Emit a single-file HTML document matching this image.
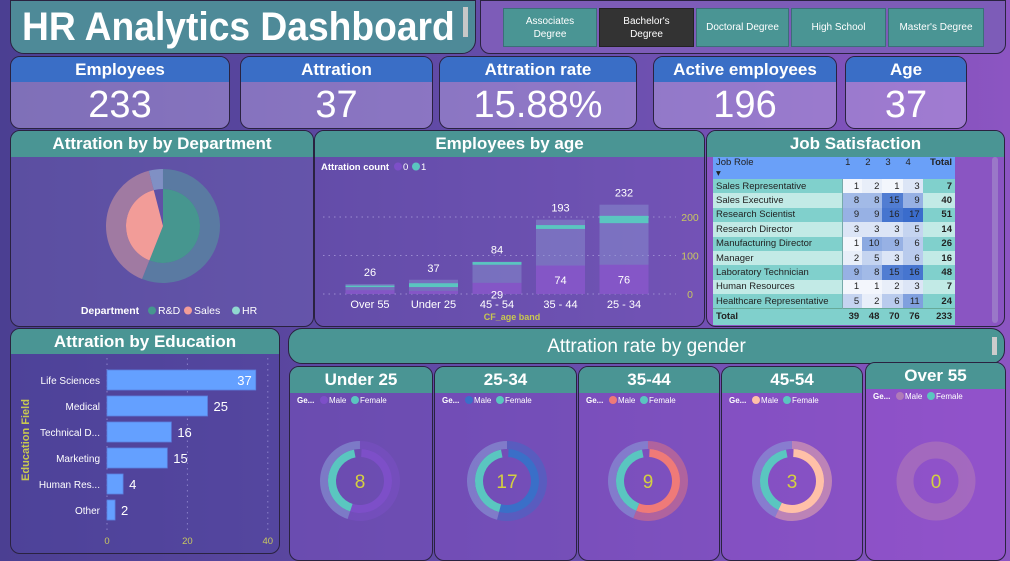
<!DOCTYPE html>
<html><head><meta charset="utf-8">
<style>
*{box-sizing:border-box;margin:0;padding:0}
body{width:1010px;height:555px;overflow:hidden;background:linear-gradient(90deg,#4b3f92 0%,#6a4fae 60%,#8c55c2 100%);font-family:"Liberation Sans Narrow","Liberation Sans",sans-serif;position:relative;color:#fff}
.p{position:absolute;border:1.5px solid #2a2240;border-radius:10px;overflow:hidden}
.hd{background:#4a9594;color:#fff;text-align:center;font-weight:bold}
.kpi .hd{background:#3a6ec6;height:25px;line-height:25px;font-size:17px}
.kpi .v{text-align:center;font-size:38px;line-height:46px;background:rgba(190,170,230,0.45);height:100%}
.btn{position:absolute;top:7px;height:39px;background:#4a9594;border:1px solid #3b6f78;font-size:10px;display:flex;align-items:center;justify-content:center;text-align:center;line-height:13px;font-family:"Liberation Sans",sans-serif}
svg text{font-family:"Liberation Sans Narrow","Liberation Sans",sans-serif}
table{border-collapse:collapse;font-family:"Liberation Sans",sans-serif;font-size:9.5px;color:#222}
td{height:14.4px;padding:0 3px;white-space:nowrap;overflow:hidden}
</style></head><body>
<div class="p" style="left:10px;top:0;width:466px;height:54px;background:#4e8a98;border-radius:0 0 14px 14px">
 <div style="position:absolute;left:11px;top:4px;font-family:'Liberation Sans',sans-serif;font-weight:bold;font-size:40px;white-space:nowrap;transform:scaleX(0.93);transform-origin:left">HR Analytics Dashboard</div>
 <div style="position:absolute;left:452px;top:6px;width:5px;height:30px;background:#c8c8c8"></div>
</div>
<div class="p" style="left:480px;top:0;width:526px;height:54px;background:#7d5cb8;border-radius:0 0 10px 10px">
 <div class="btn" style="left:22px;width:94px">Associates<br>Degree</div>
 <div class="btn" style="left:118px;width:95px;background:#333;border-color:#222">Bachelor's<br>Degree</div>
 <div class="btn" style="left:215px;width:93px">Doctoral Degree</div>
 <div class="btn" style="left:310px;width:95px">High School</div>
 <div class="btn" style="left:407px;width:96px">Master's Degree</div>
</div>

<div class="p kpi" style="left:10px;top:56px;width:220px;height:73px"><div class="hd">Employees</div><div class="v">233</div></div>
<div class="p kpi" style="left:240px;top:56px;width:193px;height:73px"><div class="hd">Attration</div><div class="v">37</div></div>
<div class="p kpi" style="left:439px;top:56px;width:198px;height:73px"><div class="hd">Attration rate</div><div class="v">15.88%</div></div>
<div class="p kpi" style="left:653px;top:56px;width:184px;height:73px"><div class="hd">Active employees</div><div class="v">196</div></div>
<div class="p kpi" style="left:845px;top:56px;width:122px;height:73px"><div class="hd">Age</div><div class="v">37</div></div>

<div class="p" style="left:10px;top:130px;width:304px;height:197px;background:rgba(120,110,190,0.35)"><div class="hd" style="height:26px;line-height:26px;font-size:17px">Attration by by Department</div></div>
<div class="p" style="left:314px;top:130px;width:391px;height:197px;background:rgba(120,90,190,0.3)"><div class="hd" style="height:26px;line-height:26px;font-size:17px">Employees by age</div></div>
<div class="p" style="left:706px;top:130px;width:299px;height:197px;background:#8a55c2"><div class="hd" style="height:26px;line-height:26px;font-size:17px">Job Satisfaction</div>
 <table style="position:absolute;left:6px;top:26px;width:242px" id="jt"></table>
 <div style="position:absolute;left:285px;top:26px;width:6px;height:166px;background:#9a78c8;border-radius:3px"></div>
</div>

<div class="p" style="left:10px;top:328px;width:270px;height:226px;background:rgba(80,70,160,0.5)"><div class="hd" style="height:25px;line-height:25px;font-size:17px">Attration by Education</div></div>
<div class="p" style="left:288px;top:328px;width:717px;height:36px;background:#4a9594;border-radius:14px">
 <div style="text-align:center;font-size:19px;line-height:36px">Attration rate by gender</div>
 <div style="position:absolute;left:703px;top:8px;width:5px;height:18px;background:#ccc"></div>
</div>
<div id="cards"></div>
<svg id="s" width="1010" height="555" style="position:absolute;left:0;top:0"></svg>
<script>
// Department
const deptNames=["R&D","Sales","HR"];
const deptValues=[21,15,1.5];
// Age chart
const ageCats=["Over 55","Under 25","45 - 54","35 - 44","25 - 34"];
const ageTotals=[26,37,84,193,232];
const ageLower=[10,8,29,74,76];
const ageLowerLabels=["","","29","74","76"];
const attrTop=[22,28,83,179,203];
const attrBottom=[18,18,76,169,184];
const ageTicks=[0,100,200];
// Job satisfaction
const jobRoles=["Sales Representative","Sales Executive","Research Scientist","Research Director","Manufacturing Director","Manager","Laboratory Technician","Human Resources","Healthcare Representative"];
const js1=[1,8,9,3,1,2,9,1,5];
const js2=[2,8,9,3,10,5,8,1,2];
const js3=[1,15,16,3,9,3,15,2,6];
const js4=[3,9,17,5,6,6,16,3,11];
// Education
const eduCats=["Life Sciences","Medical","Technical D...","Marketing","Human Res...","Other"];
const eduValues=[37,25,16,15,4,2];
const eduTicks=[0,20,40];
// Gender
const genderBands=["Under 25","25-34","35-44","45-54","Over 55"];
const genderValues=[8,17,9,3,0];
const maleShare=[0.55,0.54,0.56,0.57,0];
const maleColors=["#7d4fc8","#3a6fc8","#ef7a78","#ffc0a8","#b07ab8"];

const NS="http://www.w3.org/2000/svg",S=document.getElementById('s');
function mk(t,a,p){const e=document.createElementNS(NS,t);for(const k in a)e.setAttribute(k,a[k]);(p||S).appendChild(e);return e;}
function tx(x,y,s,a){const e=mk('text',Object.assign({x:x,y:y,fill:'#fff','font-size':11,'text-anchor':'middle'},a));e.textContent=s;return e;}
function arc(cx,cy,r0,r1,a0,a1){const P=(r,a)=>[cx+r*Math.sin(a),cy-r*Math.cos(a)];const lg=(a1-a0)>Math.PI?1:0;
 const p1=P(r1,a0),p2=P(r1,a1),p3=P(r0,a1),p4=P(r0,a0);
 if(r0<=0)return `M${cx},${cy}L${p1}A${r1},${r1} 0 ${lg} 1 ${p2}Z`;
 return `M${p1}A${r1},${r1} 0 ${lg} 1 ${p2}L${p3}A${r0},${r0} 0 ${lg} 0 ${p4}Z`;}

// Department donut
{const cx=163,cy=226,tot=deptValues.reduce((a,b)=>a+b,0);let a=0;
 const outerC=["#5a7aa2","#a07aa2","#8090c4"],innerC=["#46968f","#f29c98",null];
 deptValues.forEach((v,i)=>{const a1=a+v/tot*2*Math.PI*0.9999;
  const o=mk('path',{d:arc(cx,cy,37,57,a,a1),fill:outerC[i]});
  
  
  if(innerC[i]){const n=mk('path',{d:arc(cx,cy,0,37,a,a1),fill:innerC[i]});
   
   }
  a=a1;});
 const lg=mk('g',{});
 
 
 tx(110,314,'Department',{'font-weight':'bold','font-size':10.5},lg);
 const lc=["#46968f","#f29c98","#90d8d0"];let x=148;
 deptNames.forEach((n,i)=>{mk('circle',{cx:x+4,cy:310.5,r:4,fill:lc[i]},lg);tx(x+10,314,n,{'text-anchor':'start','font-size':10.5},lg);x+=n.length*6+18;});
}

// Age chart
{const y0=294,k=0.385,cx0=370,step=63.5,bw=49;const Y=v=>y0-v*k;
 ageTicks.forEach(t=>{mk('line',{x1:323,x2:676,y1:Y(t),y2:Y(t),stroke:'#9a8ad0','stroke-dasharray':'1.5 4','stroke-width':1});tx(690,Y(t)+4,t,{fill:'#c8c860','font-size':10.5});});
 ageCats.forEach((c,i)=>{const x=cx0+i*step-bw/2;
  const b=mk('rect',{x:x,y:Y(ageTotals[i]),width:bw,height:ageTotals[i]*k,fill:'rgba(140,150,210,0.45)'});
  
  
  const l=mk('rect',{x:x,y:Y(ageLower[i]),width:bw,height:ageLower[i]*k,fill:'rgba(135,80,200,0.8)'});
  
  
  const t=mk('rect',{x:x,y:Y(attrTop[i]),width:bw,height:(attrTop[i]-attrBottom[i])*k,fill:'#5ac6c0'});
  
  
  tx(x+bw/2,Y(ageTotals[i])-8,ageTotals[i],{'font-size':11});
  if(ageLowerLabels[i])tx(x+bw/2,Y(ageLower[i]/2)+4+(i==2?6:0),ageLowerLabels[i],{'font-size':11});
  tx(x+bw/2,308,c,{'font-size':11});});
 tx(321,170,'Attration count',{'text-anchor':'start','font-weight':'bold','font-size':9.5});
 mk('circle',{cx:398,cy:166.5,r:4,fill:'#7d4fc8'});tx(403,170,'0',{'text-anchor':'start','font-size':9.5});
 mk('circle',{cx:416,cy:166.5,r:4,fill:'#5ac6c0'});tx(421,170,'1',{'text-anchor':'start','font-size':9.5});
 tx(512,320,'CF_age band',{fill:'#c8c850','font-weight':'bold','font-size':9});
}

// Table
{const T=document.getElementById('jt');const cols=[js1,js2,js3,js4];const mx=17;
 const heat=v=>{const f=v/mx;return `rgb(${Math.round(255-197*f)},${Math.round(255-147*f)},${Math.round(255-51*f)})`;};
 let h='<tr style="background:#6aa0f8;height:20px"><td style="width:128px;vertical-align:top">Job Role<br>▾</td><td style="vertical-align:top">1</td><td style="vertical-align:top">2</td><td style="vertical-align:top">3</td><td style="vertical-align:top">4</td><td style="vertical-align:top;text-align:right;font-weight:bold">Total</td></tr>';
 const tot=[0,0,0,0];
 jobRoles.forEach((r,i)=>{const bg=i%2?'#c2eae6':'#80d0cc';let s=0;
  h+=`<tr style="background:${bg}"><td style="border-right:1px solid #7aa">${r}</td>`;
  cols.forEach((c,j)=>{s+=c[i];tot[j]+=c[i];h+=`<td style="background:${heat(c[i])};text-align:right;width:20px">${c[i]}</td>`;});
  h+=`<td style="text-align:right;font-weight:bold;width:32px">${s}</td></tr>`;});
 h+=`<tr style="background:#80d0cc;font-weight:bold;height:16px;border-top:1px solid #6a9"><td>Total</td>${tot.map(t=>`<td style="text-align:right">${t}</td>`).join('')}<td style="text-align:right">${tot.reduce((a,b)=>a+b)}</td></tr>`;
 T.innerHTML=h;}

// Education bars
{const x0=107,k=4.02,yc=380,st=26,bh=20;const X=v=>x0+v*k;
 eduTicks.forEach(t=>{mk('line',{x1:X(t),x2:X(t),y1:358,y2:530,stroke:'#8a80c8','stroke-dasharray':'1.5 4'});tx(X(t),544,t,{fill:'#c8c860','font-size':9.5});});
 eduCats.forEach((c,i)=>{const y=yc+i*st;
  const b=mk('rect',{x:x0,y:y-bh/2,width:eduValues[i]*k,height:bh,fill:'#64a0ff',stroke:'#5a80e0','stroke-width':0.8});
  
  
  tx(100,y+4,c,{'text-anchor':'end','font-size':10});
  const inside=eduValues[i]>30;
  tx(inside?X(eduValues[i])-4:X(eduValues[i])+6,y+5,eduValues[i],{'text-anchor':inside?'end':'start','font-size':13});});
 tx(0,0,'Education Field',{fill:'#c8c850','font-weight':'bold','font-size':11,transform:'translate(29,440) rotate(-90)'});
}

// Gender cards
{const C=document.getElementById('cards');const xs=[289,434,578,721,865],ws=[143,142,141,141,140],cxs=[360,507,648,792,936];
 genderBands.forEach((g,i)=>{const top=i==4?362:366;
  const d=document.createElement('div');d.className='p';
  
  
  d.style.cssText=`left:${xs[i]}px;top:${top}px;width:${ws[i]+1}px;height:${555-top+6}px;background:rgba(${120+i*8},80,${190+i*5},0.55)`;
  d.innerHTML=`<div class="hd" style="height:26px;line-height:26px;font-size:17px">${g}</div>`;
  C.appendChild(d);
  const ly=top+37;
  tx(xs[i]+8,ly,'Ge...',{'text-anchor':'start','font-size':8,'font-weight':'bold'});
  mk('circle',{cx:xs[i]+35,cy:ly-3,r:4,fill:maleColors[i]});tx(xs[i]+40,ly,'Male',{'text-anchor':'start','font-size':8});
  mk('circle',{cx:xs[i]+66,cy:ly-3,r:4,fill:'#5ac6c0'});tx(xs[i]+71,ly,'Female',{'text-anchor':'start','font-size':8});
  const cx=cxs[i],cy=481,m=maleShare[i];
  if(m>0){
   const a1=m*2*Math.PI;
   const o1=mk('path',{d:arc(cx,cy,32,40,0,a1),fill:maleColors[i],opacity:0.45});
   
   
   const o2=mk('path',{d:arc(cx,cy,32,40,a1,2*Math.PI*0.9999),fill:'#8aa0d8',opacity:0.55});
   
   
   const i1=mk('path',{d:arc(cx,cy,24,32,0.05,a1),fill:maleColors[i]});
   
   
   const i2=mk('path',{d:arc(cx,cy,24,32,a1,2*Math.PI*0.97),fill:'#5ac6c0'});
   
   
  }else{
   const r=mk('circle',{cx:cx,cy:cy,r:31,fill:'none',stroke:maleColors[i],'stroke-width':17,opacity:0.6});
   
   
  }
  tx(cx,cy+7,genderValues[i],{fill:'#d4d040','font-size':19});
 });}
</script>
</body></html>
